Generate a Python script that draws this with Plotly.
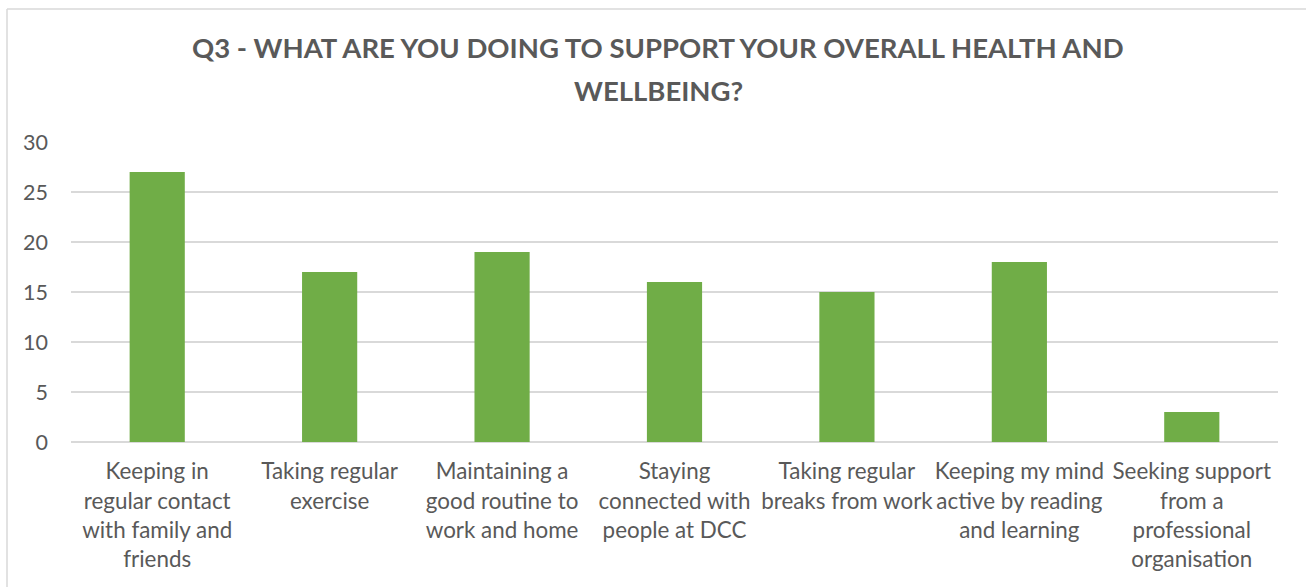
import plotly.graph_objects as go

# Survey responses: number of people selecting each activity
categories = [
    "Keeping in<br>regular contact<br>with family and<br>friends",
    "Taking regular<br>exercise",
    "Maintaining a<br>good routine to<br>work and home",
    "Staying<br>connected with<br>people at DCC",
    "Taking regular<br>breaks from work",
    "Keeping my mind<br>active by reading<br>and learning",
    "Seeking support<br>from a<br>professional<br>organisation",
]
responses = [27, 17, 19, 16, 15, 18, 3]
y_ticks = [0, 5, 10, 15, 20, 25, 30]
title_lines = [
    "Q3 - WHAT ARE YOU DOING TO SUPPORT YOUR OVERALL HEALTH AND",
    "WELLBEING?",
]

W, H = 1306, 587
ML, MR, MT, MB = 71, 28, 142, 145
TEXT = "#595959"
FONT = "Lato, Carlito, Calibri, sans-serif"

pw = W - ML - MR
ph = H - MT - MB


def px_x(x):
    return (x - ML) / pw


def px_y(y):
    return 1 + (MT - y) / ph


fig = go.Figure(
    go.Bar(
        x=categories,
        y=responses,
        marker=dict(color="#70AD47", line=dict(width=0)),
        width=0.32,
        hoverinfo="y",
    )
)

# two-line bold chart title
title_annotations = [
    dict(text=f"<b>{line}</b>", xref="paper", yref="paper",
         x=px_x(658), y=px_y(yc), xanchor="center", yanchor="middle",
         showarrow=False, font=dict(family=FONT, size=27.5, color=TEXT))
    for line, yc in zip(title_lines, [48, 90])
]

fig.update_layout(
    width=W,
    height=H,
    margin=dict(l=ML, r=MR, t=MT, b=MB),
    paper_bgcolor="white",
    plot_bgcolor="white",
    showlegend=False,
    font=dict(family=FONT, color=TEXT, size=22),
    annotations=title_annotations,
    xaxis=dict(
        showgrid=False,
        showline=False,
        ticks="",
        tickangle=0,
        ticklabelstandoff=14,
        tickfont=dict(size=22.4, color=TEXT),
        fixedrange=True,
    ),
    yaxis=dict(
        range=[0, 30],
        tickvals=y_ticks,
        showgrid=True,
        gridcolor="#D9D9D9",
        gridwidth=1.5,
        zeroline=True,
        zerolinecolor="#D9D9D9",
        zerolinewidth=1.5,
        showline=False,
        ticks="",
        ticklabelstandoff=22,
        tickfont=dict(size=21.5, color=TEXT),
        fixedrange=True,
    ),
    shapes=[
        # chart-area border (top and left edges)
        dict(type="line", xref="paper", yref="paper",
             x0=px_x(7), x1=px_x(W + 5), y0=px_y(9), y1=px_y(9),
             line=dict(color="#D9D9D9", width=1.5)),
        dict(type="line", xref="paper", yref="paper",
             x0=px_x(7), x1=px_x(7), y0=px_y(9), y1=px_y(H + 5),
             line=dict(color="#D9D9D9", width=1.5)),
    ],
)

fig.write_html("out.html")
